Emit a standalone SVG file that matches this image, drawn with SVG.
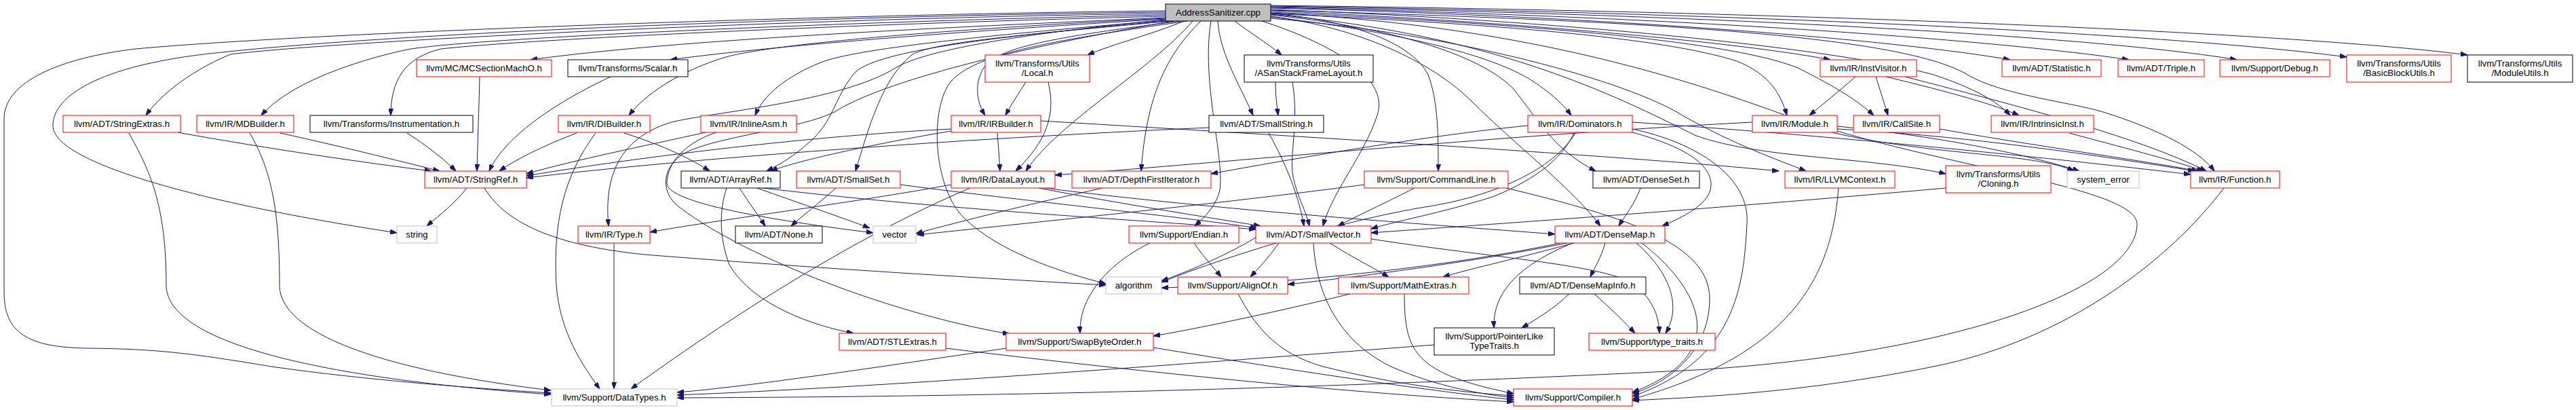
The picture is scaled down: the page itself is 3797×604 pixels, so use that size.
<svg xmlns="http://www.w3.org/2000/svg" width="3797" height="604" viewBox="0 0 3797 604">
<style>
rect{fill:#fff;stroke-width:1}
.r{stroke:#ff0000}
.k{stroke:#000}
.g{stroke:#bfbfbf}
.root{fill:#bfbfbf;stroke:#000}
text{font-family:"Liberation Sans",Arial,Helvetica,sans-serif;font-size:13.3px;fill:#000;text-anchor:middle}
#edges path{fill:none;stroke:#191970;stroke-width:1;marker-end:url(#a)}
</style>
<defs>
<marker id="a" viewBox="0 0 10 7" refX="10" refY="3.5" markerWidth="10" markerHeight="7" markerUnits="userSpaceOnUse" orient="auto"><path d="M0,0 L10,3.5 L0,7 z" fill="#191970" stroke="#191970" stroke-width="1"/></marker>
</defs>
<rect x="0" y="0" width="3797" height="604" style="fill:#fff;stroke:none"/>
<g id="edges">
<path d="M1718,16 C1300,20 500,45 200,72 C90,85 6,120 6,175 L6,430 C6,490 40,512 130,513 C230,514 280,520 400,540 C540,560 700,572 812,579"/>
<path d="M1718,18 C1300,22 600,45 300,80 C150,98 78,140 78,185 C78,240 300,300 585,343"/>
<path d="M1718,20 C1200,26 500,60 340,80 C290,100 240,135 215,170"/>
<path d="M1718,22 C1300,30 700,55 600,73 C500,95 420,130 385,170"/>
<path d="M1718,24 C1300,34 800,56 650,72 C595,85 576,120 576,170"/>
<path d="M1718,26 C1400,40 1000,58 782,88"/>
<path d="M1718,27 C1450,40 1150,62 1070,84 C1000,105 950,140 927,170"/>
<path d="M1718,28 C1450,44 1150,66 988,88"/>
<path d="M1718,29 C1500,50 1360,75 1320,100 C1240,150 1050,165 990,180 C930,198 888,240 897,333"/>
<path d="M1718,30 C1450,52 1260,72 1210,92 C1160,112 1125,140 1113,170"/>
<path d="M1720,31 C1450,55 1300,75 1262,105 C1230,140 1230,180 1190,212 C1170,230 1150,242 1130,252"/>
<path d="M1725,31 C1500,52 1380,62 1345,80 C1300,115 1280,190 1261,252"/>
<path d="M1730,31 C1500,70 1300,120 1230,165 C1180,190 1060,200 1010,225 C975,245 975,280 995,300 C1080,370 1300,460 1488,492"/>
<path d="M1740,31 C1550,55 1470,70 1450,100 C1435,125 1440,150 1452,170"/>
<path d="M1745,31 C1700,50 1640,65 1603,81"/>
<path d="M1758,31 C1700,100 1560,180 1512,252"/>
<path d="M1770,31 C1720,80 1690,140 1682,252"/>
<path d="M1750,31 C1550,60 1420,80 1395,130 C1370,180 1380,280 1420,320 C1470,370 1560,400 1630,418"/>
<path d="M1785,31 C1770,120 1805,230 1798,280 C1792,305 1775,320 1761,333"/>
<path d="M1795,31 C1798,80 1830,130 1847,170"/>
<path d="M1820,31 C1845,50 1870,65 1889,81"/>
<path d="M1860,31 C1950,60 2050,110 2030,170 C2010,230 1965,280 1950,333"/>
<path d="M1873,20 C1980,28 2080,60 2105,110 C2120,150 2120,200 2120,252"/>
<path d="M1873,22 C2050,40 2180,80 2230,130 C2270,180 2290,220 2352,252"/>
<path d="M1873,24 C2000,40 2110,90 2170,150 C2230,210 2320,280 2359,333"/>
<path d="M1873,25 C2050,45 2200,80 2260,120 C2290,140 2305,155 2316,170"/>
<path d="M1873,20 C2200,35 2450,55 2560,90 C2610,110 2625,140 2634,170"/>
<path d="M1873,18 C2250,35 2550,60 2650,100 C2710,130 2740,150 2762,170"/>
<path d="M1873,16 C2200,30 2550,60 2698,88"/>
<path d="M1873,27 C2150,50 2400,120 2480,170 C2560,215 2620,235 2662,252"/>
<path d="M1873,14 C2300,30 2700,70 2850,110 C2910,130 2945,150 2963,170"/>
<path d="M1873,12 C2400,25 2800,60 2963,88"/>
<path d="M1873,11 C2500,25 2950,60 3138,88"/>
<path d="M1873,10 C2550,22 3100,55 3297,88"/>
<path d="M1873,9 C2600,20 3200,50 3459,84"/>
<path d="M1873,8 C2700,18 3400,50 3637,81"/>
<path d="M1873,15 C2400,30 2800,50 2900,110 C2950,140 3050,150 3100,165 C3180,190 3240,220 3264,252"/>
<path d="M1873,21 C2200,50 2380,140 2500,200 C2600,235 2750,230 2868,256"/>
<path d="M1873,19 C2300,40 2550,140 2700,195 C2850,230 3000,225 3057,252"/>
<path d="M688,277 C670,300 650,315 629,333"/>
<path d="M714,277 C740,320 800,360 950,375 C1200,395 1450,410 1630,420"/>
<path d="M262,195 C400,220 540,240 636,252"/>
<path d="M190,196 C220,250 245,300 245,420 C245,510 500,560 812,581"/>
<path d="M413,196 C500,215 580,235 648,252"/>
<path d="M368,196 C400,250 412,310 412,420 C412,500 600,550 812,575"/>
<path d="M600,196 C630,215 655,235 672,252"/>
<path d="M707,113 C706,160 704,210 703,252"/>
<path d="M900,113 C800,160 740,210 721,252"/>
<path d="M850,196 C800,215 760,235 736,252"/>
<path d="M878,196 C830,260 815,330 820,420 C825,490 860,540 884,573"/>
<path d="M920,196 C980,215 1020,235 1046,252"/>
<path d="M1040,195 C950,215 850,235 776,256"/>
<path d="M1056,195 C1010,210 983,240 983,270 C983,295 1100,320 1287,343"/>
<path d="M1402,190 C1200,200 950,230 776,259"/>
<path d="M1402,193 C1300,210 1180,235 1136,252"/>
<path d="M1470,196 C1472,220 1473,235 1474,252"/>
<path d="M1534,178 C1900,200 2400,230 2622,252"/>
<path d="M1512,121 C1500,140 1490,155 1482,170"/>
<path d="M1545,121 C1560,180 1530,220 1497,252"/>
<path d="M1880,121 C1880,140 1882,155 1884,170"/>
<path d="M1905,121 C1915,180 1900,230 1906,260 C1912,290 1925,310 1930,333"/>
<path d="M1782,188 C1400,205 1000,235 776,262"/>
<path d="M1870,196 C1895,240 1915,290 1922,333"/>
<path d="M1090,277 C1105,300 1118,318 1128,333"/>
<path d="M1116,277 C1180,300 1240,320 1282,336"/>
<path d="M1071,277 C1060,310 1060,350 1075,390 C1110,450 1200,480 1258,491"/>
<path d="M1125,277 C1400,310 1700,325 1851,338"/>
<path d="M1232,277 C1210,297 1185,316 1166,333"/>
<path d="M1327,272 C1500,295 1750,320 1853,336"/>
<path d="M1402,272 C1250,300 1050,325 958,342"/>
<path d="M1430,277 C1280,340 1100,450 930,573"/>
<path d="M1531,277 C1650,300 1780,320 1858,333"/>
<path d="M1540,277 C1800,310 2100,330 2292,345"/>
<path d="M1625,277 C1520,300 1420,325 1350,344"/>
<path d="M2252,185 C2100,200 1900,235 1785,256"/>
<path d="M2320,196 C2300,240 2250,270 2200,290 C2120,315 2060,325 2021,337"/>
<path d="M2406,195 C2480,215 2520,240 2522,270 C2524,300 2480,320 2450,333"/>
<path d="M2406,180 C2700,200 3000,230 3229,257"/>
<path d="M2406,190 C2500,210 2580,260 2575,330 C2570,420 2560,530 2406,584"/>
<path d="M2322,196 C2290,250 2200,290 2100,305 C1950,330 1760,395 1712,416"/>
<path d="M2583,180 C2200,200 1800,240 1555,258"/>
<path d="M2708,190 C2900,200 3100,230 3235,252"/>
<path d="M2708,186 C2850,200 2980,225 3065,252"/>
<path d="M2708,193 C2900,250 3150,280 3150,330 C3150,420 2900,520 2500,545 C1800,580 1300,585 998,586"/>
<path d="M2735,113 C2710,135 2685,155 2667,170"/>
<path d="M2765,113 C2772,135 2778,155 2783,170"/>
<path d="M2780,113 C2850,130 2930,150 2976,170"/>
<path d="M2808,113 C2950,150 3150,200 3252,252"/>
<path d="M2859,190 C3000,215 3150,235 3240,252"/>
<path d="M3050,196 C3120,215 3200,235 3248,252"/>
<path d="M2085,277 C2040,300 2000,318 1972,333"/>
<path d="M2011,272 C1800,300 1500,330 1352,346"/>
<path d="M2220,277 C2400,320 2520,360 2520,440 C2520,510 2470,560 2406,580"/>
<path d="M2418,277 C2410,300 2395,318 2386,333"/>
<path d="M2710,277 C2700,400 2650,520 2406,588"/>
<path d="M2868,277 C2500,310 2200,330 2021,343"/>
<path d="M3278,277 C3200,380 3050,500 2850,540 C2650,580 2500,585 2406,590"/>
<path d="M1851,350 C1800,380 1750,400 1712,414"/>
<path d="M1885,358 C1870,380 1855,395 1843,408"/>
<path d="M1960,358 C1995,380 2025,395 2047,408"/>
<path d="M1936,358 C1940,430 1970,500 2050,540 C2120,570 2180,580 2231,586"/>
<path d="M2021,352 C2200,380 2370,390 2410,420 C2440,445 2445,470 2446,491"/>
<path d="M2300,358 C2100,400 1850,420 1712,424"/>
<path d="M2310,358 C2150,390 1980,410 1898,419"/>
<path d="M2320,358 C2240,380 2170,395 2127,408"/>
<path d="M2366,358 C2360,380 2350,395 2344,408"/>
<path d="M2318,358 C2240,390 2200,430 2202,483"/>
<path d="M2412,358 C2460,400 2480,450 2455,491"/>
<path d="M2420,358 C2500,420 2560,520 2406,578"/>
<path d="M2313,433 C2290,455 2265,470 2243,483"/>
<path d="M2350,433 C2375,455 2395,475 2410,491"/>
<path d="M1990,433 C1880,460 1760,485 1700,495"/>
<path d="M2070,433 C2070,500 2080,530 2140,555 C2180,570 2210,575 2231,580"/>
<path d="M1825,433 C1850,480 1880,520 1950,540 C2050,565 2150,578 2231,583"/>
<path d="M1695,358 C1630,390 1590,440 1592,491"/>
<path d="M1760,358 C1775,380 1790,395 1800,408"/>
<path d="M1483,513 C1300,540 1100,570 998,578"/>
<path d="M1700,512 C1900,545 2100,575 2231,589"/>
<path d="M1394,513 C1700,550 2000,580 2231,592"/>
<path d="M2114,508 C1700,540 1300,570 998,582"/>
<path d="M905,358 L905,573"/>
</g>
<g id="root"><rect class="root" x="1718" y="6" width="155" height="25"/><text x="1795.5" y="23">AddressSanitizer.cpp</text></g>
<g id="mcsection"><rect class="r" x="614" y="88" width="199" height="25"/><text x="713.5" y="105">llvm/MC/MCSectionMachO.h</text></g>
<g id="scalar"><rect class="k" x="837" y="88" width="177" height="25"/><text x="925.5" y="105">llvm/Transforms/Scalar.h</text></g>
<g id="local"><rect class="r" x="1452" y="81" width="154" height="40"/><text x="1529" y="98">llvm/Transforms/Utils</text><text x="1529" y="112">/Local.h</text></g>
<g id="asan"><rect class="k" x="1834" y="81" width="190" height="40"/><text x="1929" y="98">llvm/Transforms/Utils</text><text x="1929" y="112">/ASanStackFrameLayout.h</text></g>
<g id="instvisitor"><rect class="r" x="2683" y="88" width="142" height="25"/><text x="2754" y="105">llvm/IR/InstVisitor.h</text></g>
<g id="statistic"><rect class="r" x="2951" y="88" width="146" height="25"/><text x="3024" y="105">llvm/ADT/Statistic.h</text></g>
<g id="triple"><rect class="r" x="3122" y="88" width="127" height="25"/><text x="3185.5" y="105">llvm/ADT/Triple.h</text></g>
<g id="debug"><rect class="r" x="3272" y="88" width="162" height="25"/><text x="3353" y="105">llvm/Support/Debug.h</text></g>
<g id="bbutils"><rect class="r" x="3459" y="81" width="154" height="40"/><text x="3536" y="98">llvm/Transforms/Utils</text><text x="3536" y="112">/BasicBlockUtils.h</text></g>
<g id="modutils"><rect class="k" x="3637" y="81" width="155" height="40"/><text x="3714.5" y="98">llvm/Transforms/Utils</text><text x="3714.5" y="112">/ModuleUtils.h</text></g>
<g id="strextras"><rect class="r" x="93" y="170" width="173" height="25"/><text x="179.5" y="187">llvm/ADT/StringExtras.h</text></g>
<g id="mdbuilder"><rect class="r" x="290" y="170" width="143" height="25"/><text x="361.5" y="187">llvm/IR/MDBuilder.h</text></g>
<g id="instrumentation"><rect class="k" x="457" y="170" width="240" height="25"/><text x="577" y="187">llvm/Transforms/Instrumentation.h</text></g>
<g id="dibuilder"><rect class="r" x="823" y="170" width="135" height="25"/><text x="890.5" y="187">llvm/IR/DIBuilder.h</text></g>
<g id="inlineasm"><rect class="r" x="1033" y="170" width="141" height="25"/><text x="1103.5" y="187">llvm/IR/InlineAsm.h</text></g>
<g id="irbuilder"><rect class="r" x="1402" y="170" width="132" height="25"/><text x="1468" y="187">llvm/IR/IRBuilder.h</text></g>
<g id="smallstring"><rect class="k" x="1782" y="170" width="169" height="25"/><text x="1866.5" y="187">llvm/ADT/SmallString.h</text></g>
<g id="dominators"><rect class="r" x="2252" y="170" width="154" height="25"/><text x="2329" y="187">llvm/IR/Dominators.h</text></g>
<g id="module"><rect class="r" x="2583" y="170" width="125" height="25"/><text x="2645.5" y="187">llvm/IR/Module.h</text></g>
<g id="callsite"><rect class="r" x="2732" y="170" width="127" height="25"/><text x="2795.5" y="187">llvm/IR/CallSite.h</text></g>
<g id="intrinsic"><rect class="r" x="2935" y="170" width="151" height="25"/><text x="3010.5" y="187">llvm/IR/IntrinsicInst.h</text></g>
<g id="stringref"><rect class="r" x="626" y="252" width="150" height="25"/><text x="701" y="269">llvm/ADT/StringRef.h</text></g>
<g id="arrayref"><rect class="k" x="1004" y="252" width="146" height="25"/><text x="1077" y="269">llvm/ADT/ArrayRef.h</text></g>
<g id="smallset"><rect class="r" x="1174" y="252" width="153" height="25"/><text x="1250.5" y="269">llvm/ADT/SmallSet.h</text></g>
<g id="datalayout"><rect class="r" x="1402" y="252" width="153" height="25"/><text x="1478.5" y="269">llvm/IR/DataLayout.h</text></g>
<g id="dfi"><rect class="r" x="1580" y="252" width="205" height="25"/><text x="1682.5" y="269">llvm/ADT/DepthFirstIterator.h</text></g>
<g id="cmdline"><rect class="r" x="2011" y="252" width="212" height="25"/><text x="2117" y="269">llvm/Support/CommandLine.h</text></g>
<g id="denseset"><rect class="k" x="2348" y="252" width="157" height="25"/><text x="2426.5" y="269">llvm/ADT/DenseSet.h</text></g>
<g id="llvmcontext"><rect class="r" x="2631" y="252" width="162" height="25"/><text x="2712" y="269">llvm/IR/LLVMContext.h</text></g>
<g id="cloning"><rect class="r" x="2868" y="244" width="155" height="40"/><text x="2945.5" y="261">llvm/Transforms/Utils</text><text x="2945.5" y="275">/Cloning.h</text></g>
<g id="system_error"><rect class="g" x="3047" y="252" width="106" height="25"/><text x="3100" y="269">system_error</text></g>
<g id="function"><rect class="r" x="3229" y="252" width="131" height="25"/><text x="3294.5" y="269">llvm/IR/Function.h</text></g>
<g id="string"><rect class="g" x="585" y="333" width="59" height="25"/><text x="614.5" y="350">string</text></g>
<g id="type"><rect class="r" x="852" y="333" width="106" height="25"/><text x="905" y="350">llvm/IR/Type.h</text></g>
<g id="none"><rect class="k" x="1084" y="333" width="128" height="25"/><text x="1148" y="350">llvm/ADT/None.h</text></g>
<g id="vector"><rect class="g" x="1287" y="333" width="63" height="25"/><text x="1318.5" y="350">vector</text></g>
<g id="endian"><rect class="r" x="1664" y="333" width="162" height="25"/><text x="1745" y="350">llvm/Support/Endian.h</text></g>
<g id="smallvector"><rect class="r" x="1851" y="333" width="170" height="25"/><text x="1936" y="350">llvm/ADT/SmallVector.h</text></g>
<g id="densemap"><rect class="r" x="2292" y="333" width="162" height="25"/><text x="2373" y="350">llvm/ADT/DenseMap.h</text></g>
<g id="algorithm"><rect class="g" x="1630" y="408" width="82" height="25"/><text x="1671" y="425">algorithm</text></g>
<g id="alignof"><rect class="r" x="1736" y="408" width="162" height="25"/><text x="1817" y="425">llvm/Support/AlignOf.h</text></g>
<g id="mathextras"><rect class="r" x="1973" y="408" width="192" height="25"/><text x="2069" y="425">llvm/Support/MathExtras.h</text></g>
<g id="densemapinfo"><rect class="k" x="2240" y="408" width="186" height="25"/><text x="2333" y="425">llvm/ADT/DenseMapInfo.h</text></g>
<g id="stlextras"><rect class="r" x="1237" y="491" width="157" height="25"/><text x="1315.5" y="508">llvm/ADT/STLExtras.h</text></g>
<g id="swap"><rect class="r" x="1483" y="491" width="217" height="25"/><text x="1591.5" y="508">llvm/Support/SwapByteOrder.h</text></g>
<g id="pointerlike"><rect class="k" x="2114" y="483" width="177" height="40"/><text x="2202.5" y="500">llvm/Support/PointerLike</text><text x="2202.5" y="514">TypeTraits.h</text></g>
<g id="typetraits"><rect class="r" x="2342" y="491" width="186" height="25"/><text x="2435" y="508">llvm/Support/type_traits.h</text></g>
<g id="datatypes"><rect class="g" x="813" y="573" width="185" height="25"/><text x="905.5" y="590">llvm/Support/DataTypes.h</text></g>
<g id="compiler"><rect class="r" x="2231" y="573" width="175" height="25"/><text x="2318.5" y="590">llvm/Support/Compiler.h</text></g>
</svg>
